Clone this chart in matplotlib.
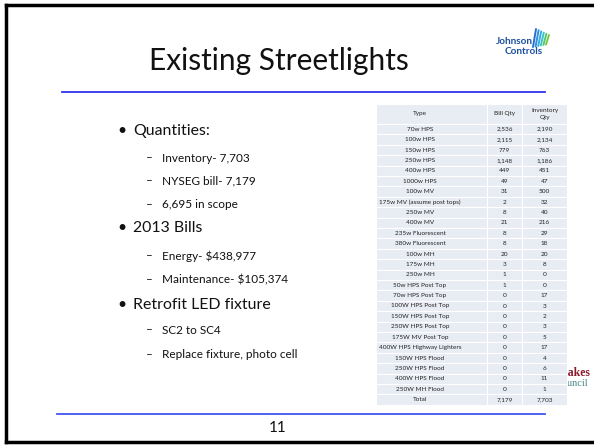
import matplotlib.pyplot as plt
from matplotlib.patches import Rectangle

plt.rcParams['font.family'] = ['Lato', 'DejaVu Sans']

title = "Existing Streetlights"
bullets = [
    (0, "Quantities:"),
    (1, "Inventory- 7,703"),
    (1, "NYSEG bill- 7,179"),
    (1, "6,695 in scope"),
    (0, "2013 Bills"),
    (1, "Energy- $438,977"),
    (1, "Maintenance- $105,374"),
    (0, "Retrofit LED fixture"),
    (1, "SC2 to SC4"),
    (1, "Replace fixture, photo cell"),
]
bullet_y = [131, 158, 181, 205, 228, 256, 280, 305, 330, 355]

col_names = ["Type", "Bill Qty", "Inventory\nQty"]
types = ["70w HPS", "100w HPS", "150w HPS", "250w HPS", "400w HPS", "1000w HPS",
         "100w MV", "175w MV (assume post tops)", "250w MV", "400w MV",
         "235w Fluorescent", "380w Fluorescent", "100w MH", "175w MH", "250w MH",
         "50w HPS Post Top", "70w HPS Post Top", "100W HPS Post Top",
         "150W HPS Post Top", "250W HPS Post Top", "175W MV Post Top",
         "400W HPS Highway Lighters", "150W HPS Flood", "250W HPS Flood",
         "400W HPS Flood", "250W MH Flood", "Total"]
bill_qty = ["2,536", "2,115", "779", "1,148", "449", "49", "31", "2", "8", "21",
            "8", "8", "20", "3", "1", "1", "0", "0", "0", "0", "0", "0", "0", "0",
            "0", "0", "7,179"]
inventory_qty = ["2,190", "2,134", "763", "1,186", "451", "47", "500", "32", "40",
                 "216", "29", "18", "20", "8", "0", "0", "17", "3", "2", "3", "5",
                 "17", "4", "6", "11", "1", "7,703"]

W, H = 594, 445
fig = plt.figure(figsize=(W / 100, H / 100), dpi=100)
ax = fig.add_axes([0, 0, 1, 1])
ax.set_xlim(0, W)
ax.set_ylim(H, 0)
ax.axis("off")

# slide frame
ax.plot([5.5, 5.5], [4.5, 442], color="black", lw=2.5)
ax.plot([5.5, W], [4.5, 4.5], color="black", lw=2.5)
ax.plot([5.5, W], [442, 442], color="black", lw=2.5)

# title + separators
ax.text(279, 61, title, fontsize=21.5, ha="center", va="center", color="#111111")
ax.plot([62, 545], [92, 92], color="#3333ee", lw=1.3)
ax.plot([57, 545], [414, 414], color="#4455ee", lw=1.3)
ax.text(278, 428, "11", fontsize=11, ha="center", va="center", color="#111111")

# Johnson Controls logo
ax.text(514, 41, "Johnson", fontsize=7.2, ha="center", va="center",
        color="#1b4fa0", fontweight="bold")
ax.text(524, 52, "Controls", fontsize=7.2, ha="center", va="center",
        color="#1b4fa0", fontweight="bold")
stripe_cols = ["#2a6fd0", "#2f8fe0", "#33aee6", "#3bc3c9", "#55c77a", "#7ac943"]
for i, c in enumerate(stripe_cols):
    x0 = 533 + i * 2.6
    ax.plot([x0, x0 + 3], [47 - i * 0.5, 29 + i * 1.2], color=c, lw=1.4,
            solid_capstyle="round")

# bullets
for (lvl, txt), y in zip(bullets, bullet_y):
    if lvl == 0:
        ax.text(117, y, "\u2022", fontsize=11.4, ha="left", va="center", color="#111111")
        ax.text(133, y, txt, fontsize=11.4, ha="left", va="center", color="#111111")
    else:
        ax.text(146, y, "\u2013", fontsize=8.5, ha="left", va="center", color="#111111")
        ax.text(162, y, txt, fontsize=8.5, ha="left", va="center", color="#111111")

# partly hidden logo behind table
ax.text(561, 373, "Lakes", fontsize=8.5, ha="left", va="center", color="#8b1a2b",
        fontweight="bold", family="Liberation Serif", zorder=1)
ax.text(556, 384, "Council", fontsize=7.5, ha="left", va="center", color="#4a8a8a",
        family="Liberation Serif", zorder=1)

# table
col_x = [376, 487, 522, 567]
text_x = [420, 504.5, 544.5]
head_top, head_bot = 104, 124
row_h = 10.4
cell_bg = "#e8ecf3"
ax.add_patch(Rectangle((col_x[0], head_top), col_x[-1] - col_x[0], head_bot - head_top,
                       facecolor=cell_bg, edgecolor="white", lw=0.8, zorder=2))
for j, name in enumerate(col_names):
    ax.text(text_x[j], (head_top + head_bot) / 2, name, fontsize=4.6, ha="center",
            va="center", color="#222222", linespacing=1.5, zorder=4)
for i, (t, b, v) in enumerate(zip(types, bill_qty, inventory_qty)):
    y0 = head_bot + i * row_h
    for j, val in enumerate([t, b, v]):
        ax.add_patch(Rectangle((col_x[j], y0), col_x[j + 1] - col_x[j], row_h,
                               facecolor=cell_bg, edgecolor="white", lw=0.8, zorder=2))
        ax.text(text_x[j], y0 + row_h / 2, val, fontsize=4.6, ha="center", va="center",
                color="#222222", zorder=4)
for j in range(1, 3):
    ax.plot([col_x[j], col_x[j]], [head_top, head_bot + len(types) * row_h],
            color="white", lw=0.8, zorder=3)

fig.savefig("out.png", dpi=100)
